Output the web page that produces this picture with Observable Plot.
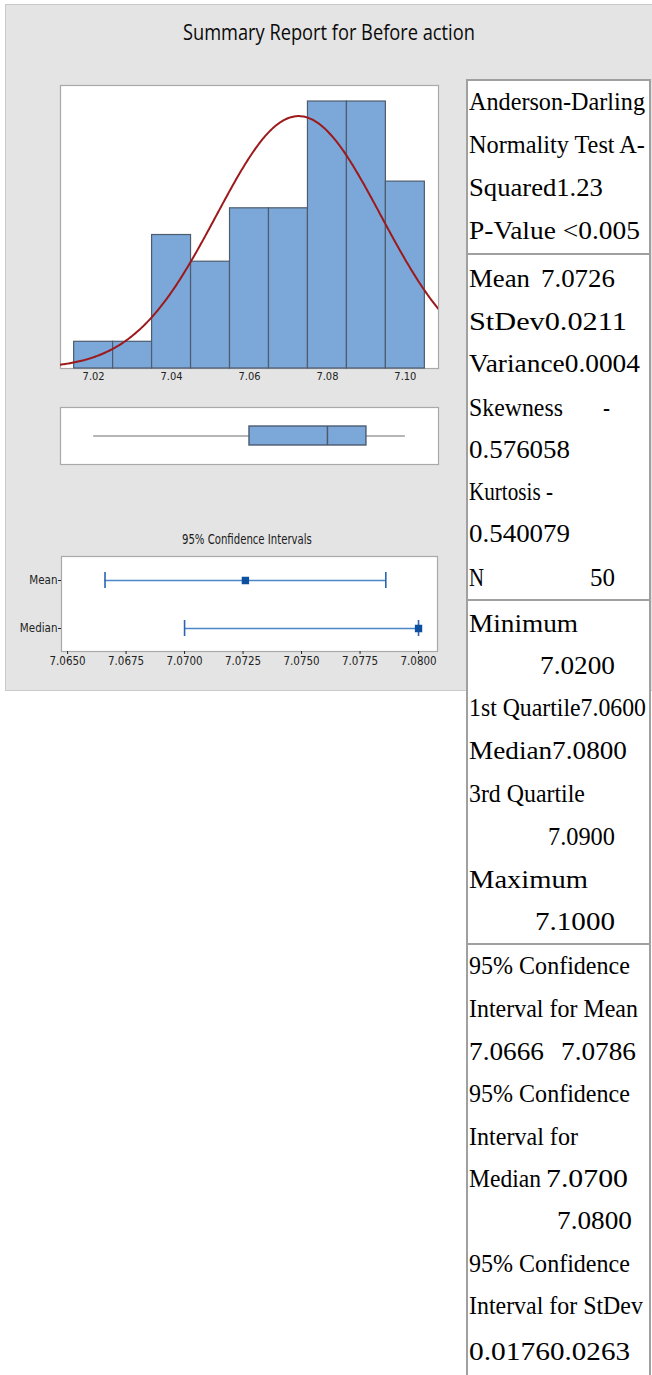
<!DOCTYPE html>
<html><head><meta charset="utf-8">
<script src="https://cdn.jsdelivr.net/npm/d3@7"></script>
<script src="https://cdn.jsdelivr.net/npm/@observablehq/plot@0.6"></script>
<style>
body{margin:0;background:#fff;}
#root{position:relative;width:652px;height:1375px;overflow:hidden;}
#panel{position:absolute;left:5px;top:4px;width:660px;height:687px;background:#e4e4e4;border:1px solid #cacaca;box-sizing:border-box;}
.plot{position:absolute;left:0;}
#overlay{position:absolute;left:0;top:0;}
</style></head><body><div id="root"><div id="panel"></div></div>
<script>
// ---- data ----
const chartTitle = "Summary Report for Before action";
const binCenters = [7.02, 7.03, 7.04, 7.05, 7.06, 7.07, 7.08, 7.09, 7.10];
const binCounts  = [1, 1, 5, 4, 6, 6, 10, 10, 7];
const binWidth = 0.01;
const histTicks = [7.02, 7.04, 7.06, 7.08, 7.10];
const sampleMean = 7.0726;
const sampleStDev = 0.0211;
const sampleN = 50;
const fiveNumber = [7.02, 7.06, 7.08, 7.09, 7.10]; // min, Q1, median, Q3, max
const ciTitle = "95% Confidence Intervals";
const ciLabels = ["Mean", "Median"];
const ciLow = [7.0666, 7.0700];
const ciHigh = [7.0786, 7.0800];
const ciEstimate = [7.0726, 7.0800];
const ciTicks = [7.0650, 7.0675, 7.0700, 7.0725, 7.0750, 7.0775, 7.0800];
const tableSections = [
  [["Anderson-Darling"], ["Normality Test A-"], ["Squared1.23"], ["P-Value <0.005"]],
  [["Mean", "7.0726"], ["StDev0.0211"], ["Variance0.0004"], ["Skewness", "-"], ["0.576058"], ["Kurtosis -"], ["0.540079"], ["N", "50"]],
  [["Minimum"], ["7.0200"], ["1st Quartile7.0600"], ["Median7.0800"], ["3rd Quartile"], ["7.0900"], ["Maximum"], ["7.1000"]],
  [["95% Confidence"], ["Interval for Mean"], ["7.0666", "7.0786"], ["95% Confidence"], ["Interval for"], ["Median", "7.0700"], ["7.0800"], ["95% Confidence"], ["Interval for StDev"], ["0.0176", "0.0263"]]
];

const root = document.getElementById("root");
const barFill = "#7ba7d9", barStroke = "#4e5c6e";
const narrow = "'Liberation Sans Narrow', 'Arial Narrow', 'DejaVu Sans Condensed', Roboto, sans-serif";
const xDomain = [7.0115, 7.1085];

// ---- histogram ----
const bins = binCenters.map((c, i) => ({x1: c - binWidth / 2, x2: c + binWidth / 2, count: binCounts[i]}));
const curve = d3.range(xDomain[0], xDomain[1] + 0.0003, 0.0003).map(x => ({
  x, y: sampleN * binWidth * Math.exp(-0.5 * ((x - sampleMean) / sampleStDev) ** 2) / (sampleStDev * Math.sqrt(2 * Math.PI))
}));
const hist = Plot.plot({
  width: 460, height: 392, marginLeft: 60, marginRight: 22, marginTop: 85, marginBottom: 24,
  style: {background: "transparent", fontFamily: narrow, fontSize: "11px", color: "#222"},
  x: {domain: xDomain},
  y: {domain: [0, 10.6], axis: null},
  marks: [
    Plot.frame({fill: "white", stroke: "#a9a9a9", strokeWidth: 1.2}),
    Plot.rect(bins, {x1: "x1", x2: "x2", y1: 0, y2: "count", fill: barFill, stroke: barStroke, strokeWidth: 1.2}),
    Plot.line(curve, {x: "x", y: "y", stroke: "#9c1a1c", strokeWidth: 2, clip: true}),
    Plot.axisX({ticks: histTicks, tickFormat: d => d.toFixed(2), tickSize: 0, tickPadding: 4, label: null})
  ]
});
hist.classList.add("plot"); hist.style.top = "0px";
root.appendChild(hist);

// ---- boxplot ----
const box = Plot.plot({
  width: 460, height: 80, marginLeft: 60, marginRight: 22, marginTop: 12, marginBottom: 11,
  style: {background: "transparent"},
  x: {domain: xDomain, axis: null},
  y: {domain: [0, 1], axis: null},
  marks: [
    Plot.frame({fill: "white", stroke: "#a9a9a9", strokeWidth: 1.2}),
    Plot.ruleY([0.5], {x1: fiveNumber[0], x2: fiveNumber[4], stroke: "#6f6f6f", strokeWidth: 1.2}),
    Plot.rect([fiveNumber], {x1: d => d[1], x2: d => d[3], y1: 0.334, y2: 0.666, fill: barFill, stroke: "#4f6078", strokeWidth: 1.5}),
    Plot.ruleX([fiveNumber[2]], {y1: 0.334, y2: 0.666, stroke: "#4f5a66", strokeWidth: 1.5})
  ]
});
box.classList.add("plot"); box.style.top = "395px";
root.appendChild(box);

// ---- confidence intervals ----
const ci = ciLabels.map((k, i) => ({k, lo: ciLow[i], hi: ciHigh[i], est: ciEstimate[i]}));
const ciPlot = Plot.plot({
  width: 460, height: 150, marginLeft: 61, marginRight: 23, marginTop: 31, marginBottom: 24,
  style: {background: "transparent", fontFamily: narrow, fontSize: "11.5px", color: "#222"},
  x: {domain: [7.06474, 7.08081]},
  y: {domain: ciLabels, type: "band", paddingInner: 0.67, paddingOuter: 0.32},
  marks: [
    Plot.frame({fill: "white", stroke: "#a9a9a9", strokeWidth: 1.2}),
    Plot.ruleY(ci, {y: "k", x1: "lo", x2: "hi", stroke: "#4a86c8", strokeWidth: 1.5}),
    Plot.tickX(ci, {x: "lo", y: "k", stroke: "#2a64ad", strokeWidth: 1.6}),
    Plot.tickX(ci, {x: "hi", y: "k", stroke: "#2a64ad", strokeWidth: 1.6}),
    Plot.dot(ci, {x: "est", y: "k", symbol: "square", r: 3.3, fill: "#0d509f", stroke: "#0d509f"}),
    Plot.axisX({ticks: ciTicks, tickFormat: d => d.toFixed(4), tickSize: 3, tickPadding: 2, label: null}),
    Plot.axisY({tickSize: 3, tickPadding: 1, label: null})
  ]
});
ciPlot.classList.add("plot"); ciPlot.style.top = "525px";
root.appendChild(ciPlot);

// ---- overlay: titles and statistics table ----
const svg = d3.select(root).append("svg").attr("id", "overlay").attr("width", 652).attr("height", 1375);

// place a text so that it spans [x0, x1] horizontally (scaled along x only)
function fitText(str, x0, x1, y, font, fill) {
  const t = svg.append("text").attr("x", 0).attr("y", 0).style("font", font).attr("fill", fill).text(str);
  const w = t.node().getComputedTextLength() || (x1 - x0);
  t.attr("transform", `translate(${x0},${y}) scale(${(x1 - x0) / w},1)`);
  return t;
}

fitText(chartTitle, 183, 475, 39.5, "22px 'Open Sans', sans-serif", "#0a0a0a");
fitText(ciTitle, 182, 312, 544, "14px " + narrow, "#1a1a1a");

const tX0 = 467, tX1 = 650, tTop = 80;
svg.insert("rect", "text").attr("x", tX0).attr("y", tTop).attr("width", tX1 - tX0).attr("height", 1400)
  .attr("fill", "white").attr("stroke", "#a0a0a0").attr("stroke-width", 2);
[254, 600, 944].forEach(y => svg.append("line").attr("x1", tX0).attr("x2", tX1).attr("y1", y).attr("y2", y)
  .attr("stroke", "#a0a0a0").attr("stroke-width", 2));

// layout of each line: baseline and [x0, x1] of each segment
const layout = [
  [[110, [469, 645]], [153, [469, 645]], [196, [469, 603]], [239, [469, 640]]],
  [[287, [469, 530], [541, 615]], [330, [469, 627]], [372, [469, 640]], [416, [469, 563], [603, 610]],
   [458, [469, 570]], [500, [469, 553]], [542, [469, 570]], [586, [469, 484], [590, 615]]],
  [[632, [469, 578]], [674, [540, 615]], [716, [469, 646]], [759, [469, 627]], [802, [469, 585]],
   [845, [548, 615]], [888, [469, 588]], [930, [535, 615]]],
  [[974, [469, 630]], [1017, [469, 638]], [1060, [469, 544], [561, 636]], [1102, [469, 630]], [1145, [469, 578]],
   [1187, [469, 541], [546, 628]], [1229, [557, 632]], [1272, [469, 630]], [1314, [469, 643]], [1360, [469, 550], [550, 630]]]
];
tableSections.forEach((sec, si) => sec.forEach((segs, li) => {
  const [base, ...pos] = layout[si][li];
  segs.forEach((t, k) => {
    const [a, b] = pos[k];
    fitText(t, a, b, base, "26px 'Liberation Serif', 'Times New Roman', serif", "#000");
  });
}));
</script></body></html>
